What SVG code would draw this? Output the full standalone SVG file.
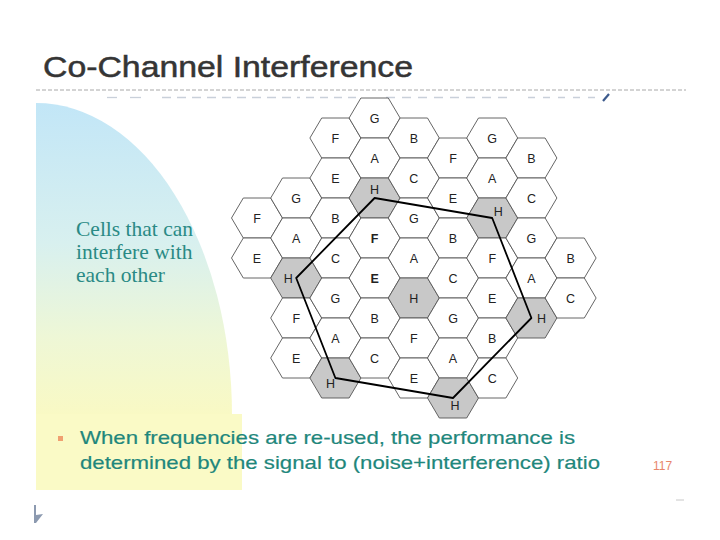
<svg xmlns="http://www.w3.org/2000/svg" xmlns:xlink="http://www.w3.org/1999/xlink" width="720" height="540" viewBox="0 0 720 540">
<defs>
<linearGradient id="bg" x1="0" y1="0" x2="0" y2="1">
<stop offset="0" stop-color="#c2e6f7"/>
<stop offset="0.45" stop-color="#d8f0ef"/>
<stop offset="0.75" stop-color="#eef7d6"/>
<stop offset="1" stop-color="#f9f9c4"/>
</linearGradient>
<path id="hx" d="M-25.5,0 L-13.7,-20 L13.7,-20 L25.5,0 L13.7,20 L-13.7,20 Z"/>
<style>
.cell{fill:#fff;stroke:#555;stroke-width:0.9}
.sh{fill:#c8c8c8;stroke:#555;stroke-width:0.9}
.lb{font-family:"Liberation Sans",Arial,sans-serif;font-size:12.5px;fill:#222;text-anchor:middle}
.teal{font-family:"Liberation Sans",Arial,sans-serif;font-size:19px;fill:#1f877c;stroke:#1f877c;stroke-width:0.2}
.serif{font-family:"Liberation Serif","Times New Roman",serif;font-size:21.5px;fill:#2a8a85}
</style>
</defs>
<rect width="720" height="540" fill="#fff"/>
<!-- background shapes -->
<path d="M36,415 L36,103 A196,312 0 0 1 232,415 Z" fill="url(#bg)"/>
<rect x="36" y="414" width="206" height="76" fill="#fafac6"/>
<!-- title -->
<text x="43" y="77" font-family="'Liberation Sans',Arial,sans-serif" font-size="29" fill="#353535" stroke="#353535" stroke-width="0.5" textLength="370" lengthAdjust="spacingAndGlyphs">Co-Channel Interference</text>
<line x1="36" y1="90" x2="686" y2="90" stroke="#a8a8a8" stroke-width="1" stroke-dasharray="4,2"/>
<!-- clipped remnants under the rule -->
<g stroke="#c9d0da" stroke-width="1.3">
<line x1="107" y1="97.5" x2="117" y2="97.5"/>
<line x1="130" y1="97.5" x2="141" y2="97.5"/>
<line x1="162" y1="97.5" x2="300" y2="97.5" stroke-dasharray="9,6"/>
<line x1="306" y1="97.5" x2="357" y2="97.5" stroke-dasharray="8,6"/>
<line x1="386" y1="97.5" x2="512" y2="97.5" stroke-dasharray="9,7"/>
<line x1="528" y1="97.5" x2="596" y2="97.5" stroke-dasharray="7,8"/>
</g>
<line x1="603" y1="101" x2="609" y2="94" stroke="#3c5a8c" stroke-width="2.2"/>
<!-- left note -->
<text class="serif" x="76" y="236">Cells that can</text>
<text class="serif" x="76" y="259">interfere with</text>
<text class="serif" x="76" y="282">each other</text>
<!-- hex cells -->
<g id="cells">
<g id="c0r218" transform="translate(257,218)"><use xlink:href="#hx" class="cell"/><text class="lb" y="4.5">F</text></g>
<g id="c0r258" transform="translate(257,258)"><use xlink:href="#hx" class="cell"/><text class="lb" y="4.5">E</text></g>
<g id="c1r198" transform="translate(296.2,198)"><use xlink:href="#hx" class="cell"/><text class="lb" y="4.5">G</text></g>
<g id="c1r238" transform="translate(296.2,238)"><use xlink:href="#hx" class="cell"/><text class="lb" y="4.5">A</text></g>
<g id="c1r278" transform="translate(296.2,278)"><use xlink:href="#hx" class="sh"/><text class="lb" x="-8" y="4.5">H</text></g>
<g id="c1r318" transform="translate(296.2,318)"><use xlink:href="#hx" class="cell"/><text class="lb" y="4.5">F</text></g>
<g id="c1r358" transform="translate(296.2,358)"><use xlink:href="#hx" class="cell"/><text class="lb" y="4.5">E</text></g>
<g id="c2r138" transform="translate(335.4,138)"><use xlink:href="#hx" class="cell"/><text class="lb" y="4.5">F</text></g>
<g id="c2r178" transform="translate(335.4,178)"><use xlink:href="#hx" class="cell"/><text class="lb" y="4.5">E</text></g>
<g id="c2r218" transform="translate(335.4,218)"><use xlink:href="#hx" class="cell"/><text class="lb" y="4.5">B</text></g>
<g id="c2r258" transform="translate(335.4,258)"><use xlink:href="#hx" class="cell"/><text class="lb" y="4.5">C</text></g>
<g id="c2r298" transform="translate(335.4,298)"><use xlink:href="#hx" class="cell"/><text class="lb" y="4.5">G</text></g>
<g id="c2r338" transform="translate(335.4,338)"><use xlink:href="#hx" class="cell"/><text class="lb" y="4.5">A</text></g>
<g id="c2r378" transform="translate(335.4,378)"><use xlink:href="#hx" class="sh"/><text class="lb" x="-5" y="9.5">H</text></g>
<g id="c3r118" transform="translate(374.6,118)"><use xlink:href="#hx" class="cell"/><text class="lb" y="4.5">G</text></g>
<g id="c3r158" transform="translate(374.6,158)"><use xlink:href="#hx" class="cell"/><text class="lb" y="4.5">A</text></g>
<g id="c3r198" transform="translate(374.6,198)"><use xlink:href="#hx" class="sh"/><text class="lb" y="-4.5">H</text></g>
<g id="c3r238" transform="translate(374.6,238)"><use xlink:href="#hx" class="cell"/><text class="lb" y="4.5" font-weight="bold">F</text></g>
<g id="c3r278" transform="translate(374.6,278)"><use xlink:href="#hx" class="cell"/><text class="lb" y="4.5" font-weight="bold">E</text></g>
<g id="c3r318" transform="translate(374.6,318)"><use xlink:href="#hx" class="cell"/><text class="lb" y="4.5">B</text></g>
<g id="c3r358" transform="translate(374.6,358)"><use xlink:href="#hx" class="cell"/><text class="lb" y="4.5">C</text></g>
<g id="c4r138" transform="translate(413.8,138)"><use xlink:href="#hx" class="cell"/><text class="lb" y="4.5">B</text></g>
<g id="c4r178" transform="translate(413.8,178)"><use xlink:href="#hx" class="cell"/><text class="lb" y="4.5">C</text></g>
<g id="c4r218" transform="translate(413.8,218)"><use xlink:href="#hx" class="cell"/><text class="lb" y="4.5">G</text></g>
<g id="c4r258" transform="translate(413.8,258)"><use xlink:href="#hx" class="cell"/><text class="lb" y="4.5">A</text></g>
<g id="c4r298" transform="translate(413.8,298)"><use xlink:href="#hx" class="sh"/><text class="lb" y="4.5">H</text></g>
<g id="c4r338" transform="translate(413.8,338)"><use xlink:href="#hx" class="cell"/><text class="lb" y="4.5">F</text></g>
<g id="c4r378" transform="translate(413.8,378)"><use xlink:href="#hx" class="cell"/><text class="lb" y="4.5">E</text></g>
<g id="c5r158" transform="translate(453,158)"><use xlink:href="#hx" class="cell"/><text class="lb" y="4.5">F</text></g>
<g id="c5r198" transform="translate(453,198)"><use xlink:href="#hx" class="cell"/><text class="lb" y="4.5">E</text></g>
<g id="c5r238" transform="translate(453,238)"><use xlink:href="#hx" class="cell"/><text class="lb" y="4.5">B</text></g>
<g id="c5r278" transform="translate(453,278)"><use xlink:href="#hx" class="cell"/><text class="lb" y="4.5">C</text></g>
<g id="c5r318" transform="translate(453,318)"><use xlink:href="#hx" class="cell"/><text class="lb" y="4.5">G</text></g>
<g id="c5r358" transform="translate(453,358)"><use xlink:href="#hx" class="cell"/><text class="lb" y="4.5">A</text></g>
<g id="c5r398" transform="translate(453,398)"><use xlink:href="#hx" class="sh"/><text class="lb" x="2" y="12">H</text></g>
<g id="c6r138" transform="translate(492.2,138)"><use xlink:href="#hx" class="cell"/><text class="lb" y="4.5">G</text></g>
<g id="c6r178" transform="translate(492.2,178)"><use xlink:href="#hx" class="cell"/><text class="lb" y="4.5">A</text></g>
<g id="c6r218" transform="translate(492.2,218)"><use xlink:href="#hx" class="sh"/><text class="lb" x="6" y="-2.5">H</text></g>
<g id="c6r258" transform="translate(492.2,258)"><use xlink:href="#hx" class="cell"/><text class="lb" y="4.5">F</text></g>
<g id="c6r298" transform="translate(492.2,298)"><use xlink:href="#hx" class="cell"/><text class="lb" y="4.5">E</text></g>
<g id="c6r338" transform="translate(492.2,338)"><use xlink:href="#hx" class="cell"/><text class="lb" y="4.5">B</text></g>
<g id="c6r378" transform="translate(492.2,378)"><use xlink:href="#hx" class="cell"/><text class="lb" y="4.5">C</text></g>
<g id="c7r158" transform="translate(531.4,158)"><use xlink:href="#hx" class="cell"/><text class="lb" y="4.5">B</text></g>
<g id="c7r198" transform="translate(531.4,198)"><use xlink:href="#hx" class="cell"/><text class="lb" y="4.5">C</text></g>
<g id="c7r238" transform="translate(531.4,238)"><use xlink:href="#hx" class="cell"/><text class="lb" y="4.5">G</text></g>
<g id="c7r278" transform="translate(531.4,278)"><use xlink:href="#hx" class="cell"/><text class="lb" y="4.5">A</text></g>
<g id="c7r318" transform="translate(531.4,318)"><use xlink:href="#hx" class="sh"/><text class="lb" x="10" y="4.5">H</text></g>
<g id="c8r258" transform="translate(570.6,258)"><use xlink:href="#hx" class="cell"/><text class="lb" y="4.5">B</text></g>
<g id="c8r298" transform="translate(570.6,298)"><use xlink:href="#hx" class="cell"/><text class="lb" y="4.5">C</text></g>
</g>
<!-- connectors -->
<g id="connectors" fill="none" stroke="#000" stroke-width="1.8" stroke-linejoin="round">
<path d="M374.6,198 L492.2,218 L531.4,318 L453,398 L335.4,378 L296.2,278 Z"/>
</g>
<!-- bottom bullet text -->
<rect x="58" y="436" width="5" height="5" fill="#f0a070"/>
<text class="teal" x="80" y="444" textLength="495" lengthAdjust="spacingAndGlyphs">When frequencies are re-used, the performance is</text>
<text class="teal" x="80" y="469" textLength="520" lengthAdjust="spacingAndGlyphs">determined by the signal to (noise+interference) ratio</text>
<text x="653" y="470" font-family="'Liberation Sans',Arial,sans-serif" font-size="12" fill="#e8866a">117</text>
<!-- footer marks -->
<path d="M34,505 L36,505 L36,515 L43,514 L36,523 L34,523 Z" fill="#8c9ab0"/>
<line x1="676" y1="500" x2="684" y2="500" stroke="#c8c8c8" stroke-width="1"/>
</svg>
